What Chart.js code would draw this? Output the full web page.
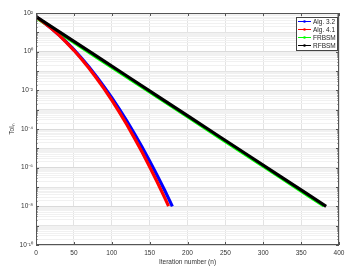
<!DOCTYPE html>
<html>
<head>
<meta charset="utf-8">
<script src="https://cdn.jsdelivr.net/npm/chart.js@4/dist/chart.umd.min.js"></script>
<style>
  html, body { margin: 0; padding: 0; background: #fff; }
  #wrap { width: 353px; height: 273px; }
</style>
</head>
<body>
<div id="wrap"><canvas id="tol_chart"></canvas></div>
<script>
// values (Tol_n vs iteration n)
const alg32_n = [0, 10, 20, 30, 40, 50, 60, 70, 80, 90, 100, 110, 120, 130, 140, 150, 160, 170, 180];
const alg32_tol = [63, 33.4, 16.5, 7.55, 3.21, 1.27, 4.69e-1, 1.61e-1, 5.12e-2, 1.51e-2, 4.17e-3, 1.07e-3,
                   2.54e-4, 5.62e-5, 1.16e-5, 2.21e-6, 3.94e-7, 6.52e-8, 1.0e-8];

const alg41_n = [0, 10, 20, 30, 40, 50, 60, 70, 80, 90, 100, 110, 120, 130, 140, 150, 160, 170, 175];
const alg41_tol = [63, 33.3, 16.3, 7.35, 3.06, 1.18, 4.2e-1, 1.39e-1, 4.23e-2, 1.19e-2, 3.09e-3, 7.43e-4,
                   1.65e-4, 3.39e-5, 6.43e-6, 1.13e-6, 1.83e-7, 2.74e-8, 1.03e-8];

const frbsm_n = [0, 40, 80, 120, 160, 200, 240, 280, 320, 360, 380];
const frbsm_tol = [57.5, 5.42, 5.12e-1, 4.82e-2, 4.55e-3, 4.29e-4, 4.04e-5, 3.81e-6, 3.59e-7, 3.39e-8, 1.04e-8];

const rfbsm_n = [0, 40, 80, 120, 160, 200, 240, 280, 320, 360, 383];
const rfbsm_tol = [66.1, 6.22, 5.87e-1, 5.53e-2, 5.22e-3, 4.92e-4, 4.63e-5, 4.38e-6, 4.12e-7, 3.89e-8, 1.0e-8];

const seriesNames = ['Alg. 3.2', 'Alg. 4.1', 'FRBSM', 'RFBSM'];
const seriesColors = ['#0000ff', '#ff0000', '#00ff00', '#000000'];

const yMajorExp = [2, 0, -2, -4, -6, -8, -10];
const yTickLabels = ['10²', '10⁰', '10⁻²', '10⁻⁴', '10⁻⁶', '10⁻⁸', '10⁻¹⁰'];
const xTicks = [0, 50, 100, 150, 200, 250, 300, 350, 400];

function pts(ns, vs) {
  return ns.map((n, i) => ({ x: n, y: vs[i] }));
}

function expOf(v) {
  const e = Math.log10(v);
  const r = Math.round(e);
  return Math.abs(e - r) < 1e-6 ? r : null;
}

// box round the plot, inside tick marks and legend (MATLAB look)
const boxPlugin = {
  id: 'boxPlugin',
  afterDraw(chart) {
    const ctx = chart.ctx;
    const a = chart.chartArea;
    const ys = chart.scales.y;
    const xs = chart.scales.x;
    ctx.save();
    ctx.strokeStyle = '#555';
    ctx.lineWidth = 1;
    ctx.strokeRect(a.left + 0.5, a.top + 0.5, a.right - a.left - 1, a.bottom - a.top - 1);

    ctx.beginPath();
    ys.ticks.forEach(t => {
      const p = Math.round(ys.getPixelForValue(t.value)) + 0.5;
      const len = expOf(t.value) !== null ? 3 : 1.5;
      ctx.moveTo(a.left, p); ctx.lineTo(a.left + len, p);
      ctx.moveTo(a.right, p); ctx.lineTo(a.right - len, p);
    });
    xTicks.forEach(v => {
      const p = Math.round(xs.getPixelForValue(v)) + 0.5;
      ctx.moveTo(p, a.bottom); ctx.lineTo(p, a.bottom - 3);
      ctx.moveTo(p, a.top); ctx.lineTo(p, a.top + 3);
    });
    ctx.stroke();

    // legend
    const lx = 296, ly = 17, lw = 41, lh = 33;
    ctx.fillStyle = '#fff';
    ctx.fillRect(lx, ly, lw, lh);
    ctx.strokeStyle = '#444';
    ctx.strokeRect(lx + 0.5, ly + 0.5, lw, lh);
    ctx.font = '6.5px "Liberation Sans", Arial, sans-serif';
    ctx.textBaseline = 'middle';
    seriesNames.forEach((name, i) => {
      const yy = ly + 4.5 + i * 8;
      ctx.strokeStyle = seriesColors[i];
      ctx.fillStyle = seriesColors[i];
      ctx.lineWidth = 1;
      ctx.beginPath();
      ctx.moveTo(lx + 2, yy); ctx.lineTo(lx + 15, yy);
      ctx.stroke();
      ctx.beginPath();
      ctx.arc(lx + 8.5, yy, 1.3, 0, Math.PI * 2);
      ctx.fill();
      ctx.fillStyle = '#262626';
      ctx.fillText(name, lx + 17, yy + 0.5);
    });
    ctx.restore();
  }
};

const tol_chart = document.getElementById('tol_chart');

new Chart(tol_chart, {
  type: 'line',
  data: {
    datasets: [
      { label: seriesNames[0], data: pts(alg32_n, alg32_tol), borderColor: seriesColors[0], order: 3 },
      { label: seriesNames[1], data: pts(alg41_n, alg41_tol), borderColor: seriesColors[1], order: 1 },
      { label: seriesNames[2], data: pts(frbsm_n, frbsm_tol), borderColor: seriesColors[2], order: 2 },
      { label: seriesNames[3], data: pts(rfbsm_n, rfbsm_tol), borderColor: seriesColors[3], order: 0 }
    ]
  },
  options: {
    responsive: true,
    maintainAspectRatio: false,
    animation: false,
    layout: { padding: { top: 13, right: 14, left: 0, bottom: 0 } },
    elements: {
      point: { radius: 0 },
      line: { borderWidth: 3.2, fill: false, tension: 0 }
    },
    plugins: {
      legend: { display: false },
      tooltip: { enabled: false }
    },
    scales: {
      x: {
        type: 'linear',
        min: 0,
        max: 400,
        afterBuildTicks: scale => { scale.ticks = xTicks.map(v => ({ value: v })); },
        afterFit: scale => { scale.height = 28; },
        grid: { color: '#e3e3e3', drawTicks: false },
        border: { display: false },
        ticks: {
          padding: 4,
          color: '#333',
          font: { family: '"Liberation Sans", Arial, sans-serif', size: 6.5 }
        },
        title: {
          display: true,
          text: 'Iteration number (n)',
          color: '#333',
          padding: { top: 7, bottom: 7 },
          font: { family: '"Liberation Sans", Arial, sans-serif', size: 6.5 }
        }
      },
      y: {
        type: 'logarithmic',
        min: 1e-10,
        max: 1e2,
        afterBuildTicks: scale => {
          const t = [];
          for (let k = -10; k < 2; k++) {
            for (let m = 1; m < 10; m++) {
              t.push({ value: Number((m * Math.pow(10, k)).toPrecision(3)) });
            }
          }
          t.push({ value: 100 });
          scale.ticks = t;
        },
        afterFit: scale => { scale.width = 36; },
        grid: {
          drawTicks: false,
          color: ctx => {
            const e = expOf(ctx.tick.value);
            if (e === null) return '#f1f1f1';
            return yMajorExp.includes(e) ? '#dadada' : '#e4e4e4';
          }
        },
        border: { display: false },
        ticks: {
          autoSkip: false,
          padding: 3,
          color: '#333',
          font: { family: '"Liberation Sans", Arial, sans-serif', size: 6.5 },
          callback: v => {
            const e = expOf(v);
            const i = yMajorExp.indexOf(e);
            return i >= 0 ? yTickLabels[i] : '';
          }
        },
        title: {
          display: true,
          text: 'Tolₙ',
          color: '#333',
          padding: { top: 8, bottom: 0 },
          font: { family: '"Liberation Sans", Arial, sans-serif', size: 6.5 }
        }
      }
    }
  },
  plugins: [boxPlugin]
});
</script>
</body>
</html>
